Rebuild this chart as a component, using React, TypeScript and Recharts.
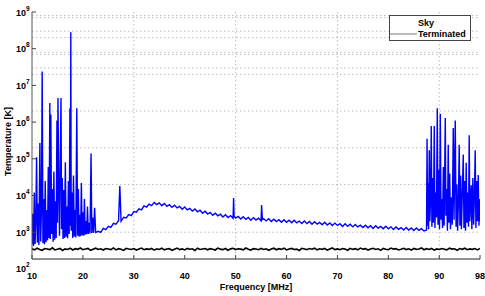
import React from "react";
import {CartesianGrid, Label, Legend, Line, LineChart, XAxis, YAxis} from "recharts";

// frequency [MHz], sky temperature [K]
const skyPoints: [number, number][] = [
    [10.0, 460], [10.15, 3200], [10.3, 420], [10.45, 1.2e4], [10.6, 480], [10.75, 2.0e3], [10.9, 1.1e5],
    [11.05, 520], [11.2, 6.0e3], [11.35, 450], [11.55, 2.7e5], [11.7, 560], [11.85, 3.5e3], [12.0, 2.4e7],
    [12.15, 500], [12.3, 8.0e3], [12.45, 470], [12.6, 2.5e4], [12.75, 530], [12.9, 4.0e3], [13.05, 600],
    [13.2, 6.0e4], [13.35, 700], [13.5, 3.3e6], [13.6, 650], [13.7, 1.6e6], [13.85, 900], [14.0, 1.5e4],
    [14.15, 550], [14.3, 4.5e4], [14.45, 620], [14.6, 7.0e3], [14.75, 700], [14.9, 1.1e6], [15.0, 1.8e3],
    [15.1, 4.5e6], [15.25, 2.2e4], [15.4, 800], [15.55, 9.0e4], [15.7, 4.5e6], [15.8, 1.2e3], [15.95, 3.0e4],
    [16.1, 650], [16.25, 1.4e4], [16.4, 700], [16.55, 8.0e4], [16.7, 750], [16.85, 5.0e3], [17.0, 680],
    [17.15, 2.5e4], [17.3, 900], [17.45, 2.4e6], [17.55, 1.5e3], [17.62, 2.8e8], [17.7, 1.1e3], [17.85, 1.2e4],
    [18.0, 700], [18.15, 3.5e4], [18.3, 760], [18.45, 4.0e3], [18.6, 720], [18.8, 2.4e6], [18.95, 800],
    [19.1, 1.5e4], [19.25, 750], [19.4, 3.0e3], [19.55, 780], [19.7, 2.2e4], [19.85, 820], [20.0, 3.5e3],
    [20.15, 800], [20.3, 8.0e3], [20.45, 850], [20.6, 2.0e3], [20.75, 880], [20.9, 5.0e3], [21.05, 900],
    [21.2, 1.8e3], [21.4, 920], [21.6, 1.4e5], [21.75, 950], [21.9, 2.5e3], [22.1, 960], [22.3, 4.6e3],
    [22.5, 980],
    [23.0, 1060], [23.5, 990], [24.0, 1270], [24.5, 1175], [25.0, 1445], [25.5, 1350], [26.0, 1750],
    [26.5, 1655], [27.0, 2050], [27.25, 1.8e4], [27.5, 1980], [28.0, 2560], [28.5, 2445], [29.0, 3020],
    [29.5, 2820], [30.0, 3670], [30.5, 3515], [31.0, 4330], [31.5, 4050], [32.0, 5230], [32.5, 4840],
    [33.0, 5830], [33.5, 5280], [34.0, 6480], [34.5, 5640], [35.0, 6310], [35.5, 5290], [36.0, 6100],
    [36.5, 5070], [37.0, 5620], [37.5, 4740], [38.0, 5400], [38.5, 4600], [39.0, 5080], [39.5, 4230],
    [40.0, 4860], [40.5, 4045], [41.0, 4450], [41.5, 3750], [42.0, 4300], [42.5, 3600], [43.0, 3960],
    [43.5, 3290], [44.0, 3730], [44.5, 3115], [45.0, 3445], [45.5, 2870], [46.0, 3295], [46.5, 2800],
    [47.0, 3100], [47.5, 2600], [48.0, 3000], [48.5, 2510], [49.0, 2810], [49.5, 2390], [49.6, 8500],
    [49.7, 2700], [50.0, 2420], [50.5, 2690], [51.0, 2280], [51.5, 2635], [52.0, 2230], [52.5, 2510],
    [53.0, 2130], [53.5, 2495], [54.0, 2145], [54.5, 2410], [55.0, 2050], [55.1, 5500], [55.25, 2220],
    [55.5, 2340], [56.0, 2030], [56.5, 2330], [57.0, 1960], [57.5, 2250], [58.0, 1955], [58.5, 2185],
    [59.0, 1855], [59.5, 2180], [60.0, 1860], [60.5, 2120], [61.0, 1800], [61.5, 2115], [62.0, 1805],
    [62.5, 2015], [63.0, 1730], [63.5, 2010], [64.0, 1710], [64.5, 1950], [65.0, 1640], [65.5, 1920],
    [66.0, 1655], [66.5, 1845], [67.0, 1585], [67.5, 1860], [68.0, 1570], [68.5, 1790], [69.0, 1520],
    [69.5, 1770], [70.0, 1525], [70.5, 1700], [71.0, 1440], [71.5, 1690], [72.0, 1440], [72.5, 1640],
    [73.0, 1395], [73.5, 1630], [74.0, 1390], [74.5, 1555], [75.0, 1335], [75.5, 1550], [76.0, 1320],
    [76.5, 1505], [77.0, 1270], [77.5, 1495], [78.0, 1290], [78.5, 1440], [79.0, 1235], [79.5, 1450],
    [80.0, 1230], [80.5, 1400], [81.0, 1190], [81.5, 1385], [82.0, 1195], [82.5, 1335], [83.0, 1140],
    [83.5, 1340], [84.0, 1145], [84.5, 1305], [85.0, 1115], [85.5, 1295], [86.0, 1120], [86.5, 1250],
    [87.0, 1075],
    [87.5, 1150], [87.6, 3.5e5], [87.7, 1.5e3], [87.8, 2.2e4], [87.9, 1.2e3], [88.04, 1.7e5], [88.15, 2.0e3],
    [88.3, 9e3], [88.43, 7.8e5], [88.55, 1.4e3], [88.7, 3.0e4], [88.85, 1.8e3], [89.02, 7.8e5], [89.15, 1.3e3],
    [89.3, 1.2e4], [89.45, 2.5e3], [89.61, 2.4e6], [89.75, 1.6e3], [89.9, 5e4], [90.05, 1.2e3], [90.2, 1.7e6],
    [90.35, 2.2e3], [90.5, 8e3], [90.65, 1.3e3], [90.8, 6e4], [90.95, 1.5e3], [91.18, 1.3e6], [91.3, 2.8e3],
    [91.45, 1.5e4], [91.6, 1.1e3], [91.76, 2.4e5], [91.9, 1.8e3], [92.05, 4e4], [92.2, 1.2e3], [92.4, 9e3],
    [92.55, 1.6e3], [92.75, 6.9e5], [92.9, 2.2e3], [93.14, 1.1e6], [93.3, 1.4e3], [93.45, 2e4], [93.6, 1.1e3],
    [93.75, 6e3], [93.92, 2.4e5], [94.05, 1.5e3], [94.2, 3.5e4], [94.35, 1.2e3], [94.5, 8e3], [94.71, 1.3e5],
    [94.85, 1.3e3], [95.0, 2.5e4], [95.15, 1.1e3], [95.29, 7.8e4], [95.45, 1.8e3], [95.6, 1.2e4], [95.75, 1.4e3],
    [95.88, 4.4e5], [96.0, 2.0e3], [96.15, 6e3], [96.27, 1.9e4], [96.4, 1.2e3], [96.6, 3e4], [96.75, 1.6e3],
    [96.9, 9e3], [97.06, 1.7e5], [97.2, 1.3e3], [97.35, 2.5e4], [97.5, 2.0e3], [97.65, 3.6e4], [97.8, 1.5e3],
    [97.95, 8e3], [98.0, 2e3],
];

// terminated load, sampled every 0.5 MHz from 10 MHz
const termStart = 10;
const termStep = 0.5;
const termValues = [
    352, 331, 368, 340, 322, 359, 347, 336, 375, 329,
    344, 361, 318, 350, 338, 366, 327, 355, 342, 371,
    333, 349, 360, 321, 345, 367, 338, 352, 326, 358,
    347, 335, 372, 330, 356, 341, 319, 363, 349, 337,
    358, 326, 346, 369, 334, 351, 340, 362, 324, 353,
    339, 365, 331, 348, 357, 320, 344, 370, 336, 350,
    329, 361, 343, 354, 317, 366, 338, 349, 360, 332,
    355, 341, 327, 368, 346, 335, 359, 323, 351, 364,
    337, 352, 345, 330, 371, 343, 326, 357, 348, 334,
    362, 339, 353, 321, 347, 366, 332, 356, 340, 369,
    328, 350, 361, 337, 345, 318, 364, 349, 335, 358,
    344, 367, 330, 353, 341, 360, 325, 348, 372, 336,
    351, 333, 359, 346, 322, 363, 340, 355, 331, 368,
    345, 357, 327, 350, 365, 338, 352, 320, 361, 343,
    334, 369, 347, 356, 329, 342, 364, 336, 353, 326,
    360, 341, 348, 373, 332, 355, 339, 362, 324, 350,
    337, 358, 345, 330, 367, 346, 353, 321, 359, 342,
    365, 334, 351, 340, 357, 329, 362,
];

const xTicks = [10, 20, 30, 40, 50, 60, 70, 80, 90, 98];
const yTicks = [1e2, 1e3, 1e4, 1e5, 1e6, 1e7, 1e8, 1e9];
const xGrid = [30, 50, 70, 90];
const yGrid = [1e3, 2e4, 2e5, 2e6, 2e7, 3e7, 7e7, 8e7, 2e8, 3e8, 7e8, 8e8];
const yMin = 186;
const yMax = 1e9;

const skyData = skyPoints.map(([f, t]) => ({f, sky: t}));
const termData = termValues.map((t, i) => ({f: termStart + i * termStep, term: t}));

const font = "'Liberation Sans', Arial, Helvetica, sans-serif";

const FreqTick = (props: any) => {
    const {x, y, payload} = props;
    return <g>
        <line x1={x} x2={x} y1={y} y2={y - 4} stroke="#444"/>
        <text x={x} y={y + 20} textAnchor="middle" fontFamily={font} fontSize={9} fontWeight="bold" fill="#000">
            {payload.value}
        </text>
    </g>;
};

const PowTick = (props: any) => {
    const {x, y, payload} = props;
    const exp = Math.round(Math.log10(payload.value));
    return <g>
        {payload.value >= yMin && <line x1={x} x2={x + 4} y1={y} y2={y} stroke="#444"/>}
        <text x={x - 6} y={y + 3.5} textAnchor="end" fontFamily={font} fontSize={9} fontWeight="bold" fill="#000">10</text>
        <text x={x - 6} y={y - 1.5} fontFamily={font} fontSize={6.5} fontWeight="bold" fill="#000">{exp}</text>
    </g>;
};

const RightTick = (props: any) => {
    const {x, y} = props;
    return <line x1={x} x2={x - 4} y1={y} y2={y} stroke="#666"/>;
};

const TopTick = (props: any) => {
    const {x, y} = props;
    return <line x1={x} x2={x} y1={y} y2={y + 4} stroke="#777"/>;
};

const XTitle = (props: any) => {
    const {x, y, width} = props.viewBox;
    return <text x={x + width / 2} y={y + 31} textAnchor="middle" fontFamily={font} fontSize={9} fontWeight="bold" fill="#000">
        Frequency [MHz]
    </text>;
};

const YTitle = (props: any) => {
    const {x, y, height} = props.viewBox;
    const cx = x + 8;
    const cy = y + height / 2 + 6;
    return <text x={cx} y={cy} transform={`rotate(-90, ${cx}, ${cy})`} textAnchor="middle" dominantBaseline="central"
                 fontFamily={font} fontSize={9} fontWeight="bold" fill="#000">
        Temperature [K]
    </text>;
};

const LegendBox = () => (
    <svg width={82} height={26} style={{display: "block"}}>
        <rect x={0.5} y={0.5} width={81} height={25} fill="#fff" stroke="#444"/>
        <text x={29} y={11} fontFamily={font} fontSize={9} fontWeight="bold" fill="#000">Sky</text>
        <line x1={1} x2={28} y1={19} y2={19} stroke="#555" strokeWidth={0.8}/>
        <text x={29} y={22} fontFamily={font} fontSize={9} fontWeight="bold" fill="#000">Terminated</text>
    </svg>
);

export default function App() {
    return <div style={{position: "absolute", left: 0, top: 0, background: "#fff"}}>
        <LineChart width={485} height={296} margin={{top: 12, right: 5, bottom: 0, left: 0}}>
            <CartesianGrid horizontalValues={yGrid} verticalValues={xGrid} stroke="#bdbdbd" strokeDasharray="1.5 2.5"/>
            <XAxis dataKey="f" type="number" domain={[10, 98]} ticks={xTicks} interval={0} height={37}
                   allowDataOverflow tickLine={false} tickSize={0} tickMargin={0}
                   axisLine={{stroke: "#222"}} tick={<FreqTick/>}>
                <Label content={<XTitle/>}/>
            </XAxis>
            <XAxis xAxisId="t" orientation="top" type="number" domain={[10, 98]} ticks={[20, 30, 40, 50, 60, 70, 80, 90]}
                   interval={0} height={0} axisLine={false} tickLine={false} tickSize={0} tickMargin={0} tick={<TopTick/>}/>
            <YAxis scale="log" domain={[yMin, yMax]} ticks={yTicks} interval={0} width={32} allowDataOverflow
                   tickLine={false} tickSize={0} tickMargin={0} axisLine={{stroke: "#555"}} tick={<PowTick/>}>
                <Label content={<YTitle/>}/>
            </YAxis>
            <YAxis yAxisId="r" orientation="right" scale="log" domain={[yMin, yMax]} ticks={yTicks.slice(1)} interval={0}
                   width={0} allowDataOverflow tickLine={false} tickSize={0} tickMargin={0}
                   axisLine={{stroke: "#666"}} tick={<RightTick/>}/>
            <Line data={skyData} dataKey="sky" type="linear" stroke="#0000ff" strokeWidth={1.4} dot={false}
                  isAnimationActive={false}/>
            <Line data={termData} dataKey="term" type="linear" stroke="#000" strokeWidth={1.6} dot={false}
                  isAnimationActive={false}/>
            <Legend layout="vertical" align="center" verticalAlign="middle" content={<LegendBox/>}
                    wrapperStyle={{position: "absolute", left: 389, top: 15, width: 82, height: 26}}/>
        </LineChart>
    </div>;
}
